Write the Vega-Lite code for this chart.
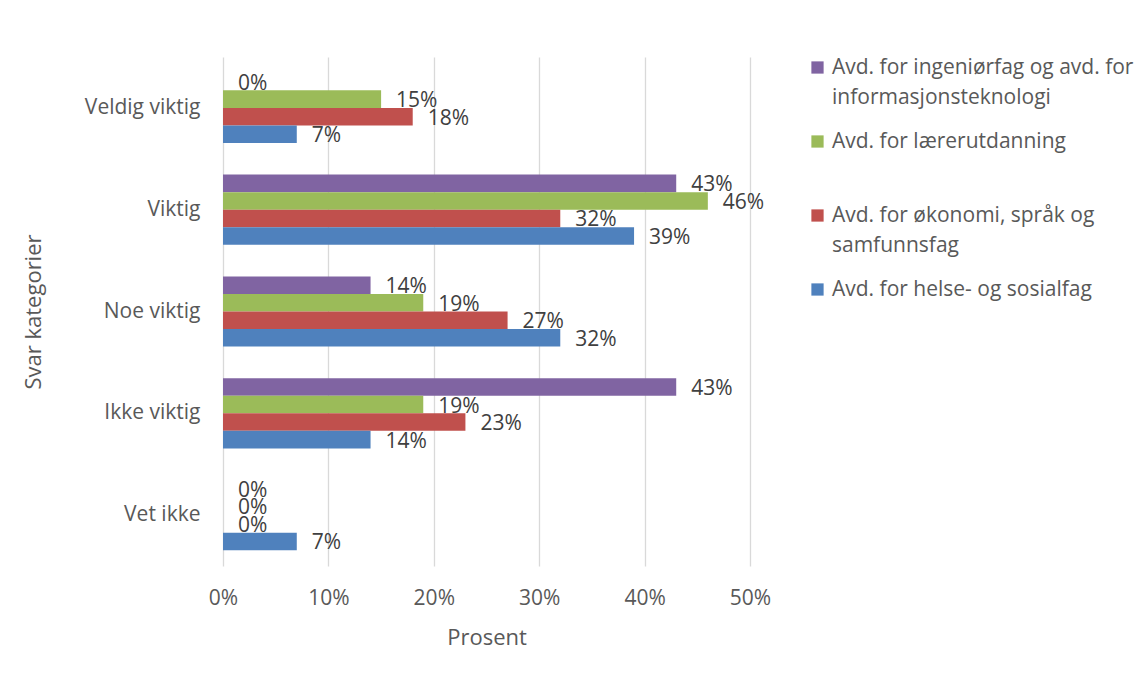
{
  "$schema": "https://vega.github.io/schema/vega-lite/v6.json",
  "width": 527,
  "height": 509,
  "autosize": {"type": "none"},
  "padding": {"left": 223, "top": 57, "right": 396, "bottom": 109},
  "background": "#ffffff",
  "config": {
    "view": {"stroke": null},
    "font": "Open Sans",
    "style": {"guide-label": {"lineHeight": 30}}
  },
  "data": {
    "values": [
      {"kategori": "Veldig viktig", "avdeling": "Avd. for ingeniørfag og avd. for informasjonsteknologi", "andel": 0},
      {"kategori": "Veldig viktig", "avdeling": "Avd. for lærerutdanning", "andel": 0.15},
      {"kategori": "Veldig viktig", "avdeling": "Avd. for økonomi, språk og samfunnsfag", "andel": 0.18},
      {"kategori": "Veldig viktig", "avdeling": "Avd. for helse- og sosialfag", "andel": 0.07},
      {"kategori": "Viktig", "avdeling": "Avd. for ingeniørfag og avd. for informasjonsteknologi", "andel": 0.43},
      {"kategori": "Viktig", "avdeling": "Avd. for lærerutdanning", "andel": 0.46},
      {"kategori": "Viktig", "avdeling": "Avd. for økonomi, språk og samfunnsfag", "andel": 0.32},
      {"kategori": "Viktig", "avdeling": "Avd. for helse- og sosialfag", "andel": 0.39},
      {"kategori": "Noe viktig", "avdeling": "Avd. for ingeniørfag og avd. for informasjonsteknologi", "andel": 0.14},
      {"kategori": "Noe viktig", "avdeling": "Avd. for lærerutdanning", "andel": 0.19},
      {"kategori": "Noe viktig", "avdeling": "Avd. for økonomi, språk og samfunnsfag", "andel": 0.27},
      {"kategori": "Noe viktig", "avdeling": "Avd. for helse- og sosialfag", "andel": 0.32},
      {"kategori": "Ikke viktig", "avdeling": "Avd. for ingeniørfag og avd. for informasjonsteknologi", "andel": 0.43},
      {"kategori": "Ikke viktig", "avdeling": "Avd. for lærerutdanning", "andel": 0.19},
      {"kategori": "Ikke viktig", "avdeling": "Avd. for økonomi, språk og samfunnsfag", "andel": 0.23},
      {"kategori": "Ikke viktig", "avdeling": "Avd. for helse- og sosialfag", "andel": 0.14},
      {"kategori": "Vet ikke", "avdeling": "Avd. for ingeniørfag og avd. for informasjonsteknologi", "andel": 0},
      {"kategori": "Vet ikke", "avdeling": "Avd. for lærerutdanning", "andel": 0},
      {"kategori": "Vet ikke", "avdeling": "Avd. for økonomi, språk og samfunnsfag", "andel": 0},
      {"kategori": "Vet ikke", "avdeling": "Avd. for helse- og sosialfag", "andel": 0.07}
    ]
  },
  "encoding": {
    "y": {
      "field": "kategori",
      "type": "nominal",
      "sort": ["Veldig viktig", "Viktig", "Noe viktig", "Ikke viktig", "Vet ikke"],
      "scale": {"paddingInner": 0.31, "paddingOuter": 0.155},
      "axis": {
        "title": "Svar kategorier",
        "domain": false,
        "ticks": false,
        "grid": false,
        "labelPadding": 23,
        "labelFontSize": 21,
        "labelColor": "#595959",
        "titleFontSize": 22,
        "titleFontWeight": "normal",
        "titleColor": "#595959",
        "titleX": -190,
        "titleBaseline": "middle"
      }
    },
    "yOffset": {
      "field": "avdeling",
      "type": "nominal",
      "sort": ["Avd. for ingeniørfag og avd. for informasjonsteknologi", "Avd. for lærerutdanning", "Avd. for økonomi, språk og samfunnsfag", "Avd. for helse- og sosialfag"],
      "scale": {"paddingInner": 0, "paddingOuter": 0}
    },
    "x": {
      "field": "andel",
      "type": "quantitative",
      "scale": {"domain": [0, 0.5], "nice": false},
      "axis": {
        "title": "Prosent",
        "format": ".0%",
        "values": [0, 0.1, 0.2, 0.3, 0.4, 0.5],
        "domain": false,
        "ticks": false,
        "grid": true,
        "gridColor": "#d9d9d9",
        "gridWidth": 1.3,
        "labelFlush": false,
        "labelPadding": 21,
        "labelFontSize": 21,
        "labelColor": "#595959",
        "titleFontSize": 22,
        "titleFontWeight": "normal",
        "titleColor": "#595959",
        "titleY": 71,
        "titleBaseline": "middle"
      }
    },
    "color": {
      "field": "avdeling",
      "type": "nominal",
      "scale": {
        "domain": ["Avd. for ingeniørfag og avd. for informasjonsteknologi", "Avd. for lærerutdanning", "Avd. for økonomi, språk og samfunnsfag", "Avd. for helse- og sosialfag"],
        "range": ["#8064A2", "#9BBB59", "#C0504D", "#4F81BD"]
      },
      "legend": {
        "title": null,
        "orient": "right",
        "offset": 57,
        "padding": 0,
        "symbolType": "square",
        "symbolSize": 150,
        "symbolStrokeWidth": 0,
        "labelFontSize": 21,
        "labelColor": "#595959",
        "labelOffset": 4,
        "labelLimit": 400,
        "gridAlign": "all",
        "rowPadding": 22,
        "labelExpr": "datum.label == 'Avd. for ingeniørfag og avd. for informasjonsteknologi' ? ['Avd. for ingeniørfag og avd. for', 'informasjonsteknologi'] : datum.label == 'Avd. for økonomi, språk og samfunnsfag' ? ['Avd. for økonomi, språk og', 'samfunnsfag'] : datum.label"
      }
    }
  },
  "layer": [
    {"mark": {"type": "bar"}},
    {
      "mark": {"type": "text", "align": "left", "baseline": "middle", "dx": 15, "dy": 2, "fontSize": 21},
      "encoding": {
        "text": {"field": "andel", "type": "quantitative", "format": ".0%"},
        "color": {"value": "#404040"}
      }
    }
  ]
}
